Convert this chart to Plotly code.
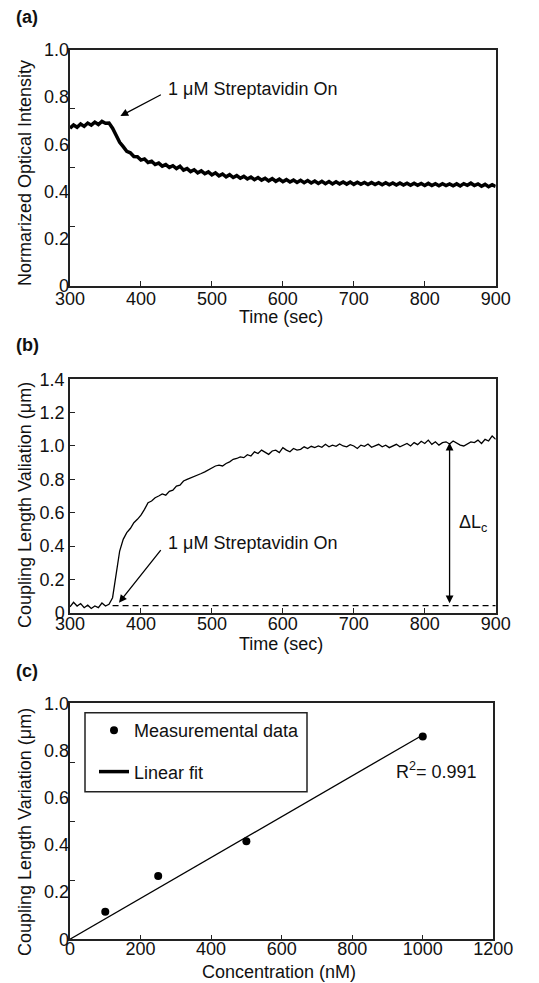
import numpy as np
import plotly.graph_objects as go

W, H = 539, 983
FONT = 'Liberation Sans, Arial, sans-serif'
INK = '#111111'

# (a) normalized optical intensity, one reading every 5 s
time_a = list(range(300, 905, 5))
intensity_a = [
    0.668, 0.682, 0.672, 0.686, 0.676, 0.690, 0.681, 0.694, 0.684, 0.697, 0.689, 0.690,
    0.668, 0.640, 0.608, 0.590, 0.570, 0.564, 0.548, 0.547, 0.533, 0.538, 0.523, 0.528,
    0.514, 0.520, 0.507, 0.514, 0.502, 0.509, 0.497, 0.507, 0.490, 0.497, 0.484, 0.492,
    0.479, 0.487, 0.475, 0.483, 0.470, 0.479, 0.466, 0.474, 0.462, 0.471, 0.459, 0.467,
    0.456, 0.464, 0.453, 0.461, 0.450, 0.459, 0.448, 0.456, 0.445, 0.454, 0.443, 0.452,
    0.441, 0.450, 0.440, 0.448, 0.438, 0.447, 0.437, 0.446, 0.436, 0.444, 0.434, 0.443,
    0.433, 0.442, 0.432, 0.441, 0.432, 0.440, 0.431, 0.440, 0.430, 0.439, 0.430, 0.438,
    0.429, 0.438, 0.429, 0.437, 0.428, 0.437, 0.428, 0.436, 0.427, 0.436, 0.427, 0.435,
    0.426, 0.435, 0.426, 0.434, 0.425, 0.434, 0.425, 0.433, 0.424, 0.433, 0.425, 0.432,
    0.424, 0.432, 0.423, 0.433, 0.426, 0.435, 0.425, 0.432, 0.422, 0.430, 0.420, 0.428,
    0.421,
]

# (b) coupling length variation (um), one reading every 5 s
time_b = list(range(300, 905, 5))
coupling_b = [
    0.035, 0.062, 0.040, 0.055, 0.030, 0.045, 0.025, 0.040, 0.030, 0.058, 0.040, 0.050,
    0.090, 0.240, 0.370, 0.440, 0.480, 0.505, 0.540, 0.560, 0.585, 0.620, 0.660, 0.670,
    0.690, 0.700, 0.712, 0.705, 0.728, 0.735, 0.760, 0.765, 0.790, 0.800, 0.808, 0.815,
    0.825, 0.835, 0.845, 0.855, 0.870, 0.880, 0.885, 0.880, 0.895, 0.905, 0.920, 0.925,
    0.935, 0.930, 0.948, 0.940, 0.965, 0.955, 0.975, 0.960, 0.950, 0.970, 0.975, 0.960,
    0.990, 0.975, 0.965, 0.985, 0.975, 0.980, 0.995, 0.985, 0.998, 0.990, 1.000, 0.992,
    1.010, 0.995, 1.005, 0.998, 1.012, 1.000, 0.995, 1.008, 1.000, 0.985, 1.005, 0.998,
    1.012, 0.992, 1.000, 1.010, 0.995, 1.005, 0.990, 1.002, 1.010, 0.995, 1.005, 1.015,
    1.000, 1.020, 1.008, 1.028, 1.015, 1.035, 1.010, 1.025, 1.005, 1.020, 1.025, 1.012,
    1.030, 1.018, 1.005, 1.000, 1.015, 1.025, 1.020, 1.035, 1.015, 1.040, 1.030, 1.060,
    1.040,
]
baseline_b = 0.042
baseline_from = 360
delta_lc_time = 835
delta_lc_top = 1.02

# (c) calibration against concentration
conc_nm = [100, 250, 500, 1000]
coupling_c = [0.117, 0.268, 0.415, 0.859]
r_squared = 0.991

# tick marks and labels (panels a and c label every 0.2 but tick every 0.25)
time_ticks = [300, 400, 500, 600, 700, 800, 900]
conc_ticks = [0, 200, 400, 600, 800, 1000, 1200]
quarter_ticks = [0.25, 0.5, 0.75]
unit_labels = [0, 0.2, 0.4, 0.6, 0.8, 1.0]
unit_text = ['0', '0.2', '0.4', '0.6', '0.8', '1.0']
b_labels = [0, 0.2, 0.4, 0.6, 0.8, 1.0, 1.2, 1.4]
b_text = ['0', '0.2', '0.4', '0.6', '0.8', '1.0', '1.2', '1.4']


def px(x):
    return x / W


def py(y):
    return 1 - y / H


# plot frames in pixels: left, right, top, bottom
frame_a = (70, 495.7, 50, 285.7)
frame_b = (70, 495.7, 379.3, 612.7)
frame_c = (70, 493.3, 703.3, 939.3)


def xdom(f):
    return [px(f[0]), px(f[1])]


def ydom(f):
    return [py(f[3]), py(f[2])]


frame_style = dict(
    showline=True, mirror=True, linecolor='#222', linewidth=1.5,
    ticks='inside', ticklen=5, tickwidth=1.2, tickcolor='#222',
    showgrid=False, zeroline=False, automargin=False,
    tickfont=dict(size=18, color=INK, family=FONT),
)
label_style = dict(
    showline=False, ticks='', showgrid=False, zeroline=False, automargin=False,
    tickfont=dict(size=18, color=INK, family=FONT),
)
text_font = dict(size=18, color=INK, family=FONT)

fig = go.Figure()

fig.add_trace(go.Scatter(
    x=time_a, y=intensity_a, mode='lines', xaxis='x', yaxis='y',
    line=dict(color='black', width=3.5), showlegend=False,
))

fig.add_trace(go.Scatter(
    x=time_b, y=coupling_b, mode='lines', xaxis='x2', yaxis='y2',
    line=dict(color='black', width=1.3), showlegend=False,
))
fig.add_trace(go.Scatter(
    x=[baseline_from, 900], y=[baseline_b, baseline_b], mode='lines',
    xaxis='x2', yaxis='y2',
    line=dict(color='black', width=1.3, dash='6px,4px'), showlegend=False,
))

# linear fit through the origin
cx = np.array(conc_nm, dtype=float)
cy = np.array(coupling_c)
slope = np.dot(cx, cy) / np.dot(cx, cx)
fit_x = np.array([0, cx.max()])
fig.add_trace(go.Scatter(
    x=conc_nm, y=coupling_c, mode='markers', xaxis='x3', yaxis='y3',
    marker=dict(color='black', size=8), name='Measuremental data',
    legendgroup='meas',
))
fig.add_trace(go.Scatter(
    x=fit_x, y=slope * fit_x, mode='lines', xaxis='x3', yaxis='y3',
    line=dict(color='black', width=1.3), showlegend=False, legendgroup='fit',
))
# legend entry only: the key in the original uses a heavier stroke
fig.add_trace(go.Scatter(
    x=[None], y=[None], mode='lines', xaxis='x3', yaxis='y3',
    line=dict(color='black', width=3.5), name='Linear fit', legendgroup='fit',
))

# empty traces so the label-only overlay axes get drawn
for xa, ya in (('x', 'y4'), ('x3', 'y5')):
    fig.add_trace(go.Scatter(x=[None], y=[None], xaxis=xa, yaxis=ya,
                             mode='lines', showlegend=False, hoverinfo='skip'))

fig.update_layout(
    template='none',
    width=W, height=H, autosize=False,
    margin=dict(l=0, r=0, t=0, b=0, pad=0, autoexpand=False),
    paper_bgcolor='white', plot_bgcolor='white',
    font=dict(family=FONT, size=18, color=INK),
    xaxis=dict(frame_style, domain=xdom(frame_a), anchor='y', range=[300, 900],
               tickvals=time_ticks, ticklabelstandoff=-4),
    yaxis=dict(frame_style, domain=ydom(frame_a), anchor='x', range=[0, 1],
               tickvals=quarter_ticks, showticklabels=False),
    yaxis4=dict(label_style, overlaying='y', anchor='x', range=[0, 1],
                tickvals=unit_labels, ticktext=unit_text),
    xaxis2=dict(frame_style, domain=xdom(frame_b), anchor='y2', range=[300, 900],
                tickvals=time_ticks, ticklabelstandoff=-6),
    yaxis2=dict(frame_style, domain=ydom(frame_b), anchor='x2', range=[0, 1.4],
                tickvals=b_labels, ticktext=b_text),
    xaxis3=dict(frame_style, domain=xdom(frame_c), anchor='y3', range=[0, 1200],
                tickvals=conc_ticks, ticklabelstandoff=-8),
    yaxis3=dict(frame_style, domain=ydom(frame_c), anchor='x3', range=[0, 1],
                tickvals=quarter_ticks, showticklabels=False),
    yaxis5=dict(label_style, overlaying='y3', anchor='x3', range=[0, 1],
                tickvals=unit_labels, ticktext=unit_text),
    legend=dict(
        x=px(94), y=py(712), xanchor='left', yanchor='top',
        bgcolor='rgba(0,0,0,0)', borderwidth=0,
        font=text_font, tracegroupgap=15, itemwidth=30,
    ),
    showlegend=True,
)

# legend frame
fig.add_shape(type='rect', xref='paper', yref='paper',
              x0=px(85), x1=px(307), y0=py(791.7), y1=py(712.7),
              line=dict(color='#222', width=1.5))

annotations = []
for label, ymid in (('(a)', 17), ('(b)', 345), ('(c)', 671)):
    annotations.append(dict(
        text=f'<b>{label}</b>', xref='paper', yref='paper',
        x=px(14), y=py(ymid), xanchor='left', yanchor='middle',
        showarrow=False, font=text_font,
    ))

# axis titles, placed where the original puts them
axis_titles = [
    ('Time (sec)', 281, 317, 0),
    ('Time (sec)', 281, 644, 0),
    ('Concentration (nM)', 279, 972, 0),
    ('Normarized Optical Intensity', 25, 173, -90),
    ('Coupling Length Valiation (μm)', 25, 505, -90),
    ('Coupling Length Variation (μm)', 25, 832, -90),
]
for text, x, y, angle in axis_titles:
    annotations.append(dict(
        text=text, xref='paper', yref='paper', x=px(x), y=py(y),
        xanchor='center', yanchor='middle', textangle=angle,
        showarrow=False, font=text_font,
    ))

# (a) injection arrow and note
annotations.append(dict(
    x=371, y=0.72, xref='x', yref='y', text='', showarrow=True,
    ax=42, ay=-22, arrowhead=2, arrowsize=1.2, arrowwidth=1.3, arrowcolor='black',
))
annotations.append(dict(
    x=px(166), y=py(89), xref='paper', yref='paper',
    text='1 μM Streptavidin On', xanchor='left', yanchor='middle',
    showarrow=False, font=text_font,
))

# (b) injection arrow and note
annotations.append(dict(
    x=369, y=0.06, xref='x2', yref='y2', text='', showarrow=True,
    ax=43, ay=-54, arrowhead=2, arrowsize=1.2, arrowwidth=1.3, arrowcolor='black',
))
annotations.append(dict(
    x=px(166), y=py(542.7), xref='paper', yref='paper',
    text='1 μM Streptavidin On', xanchor='left', yanchor='middle',
    showarrow=False, font=text_font,
))

# (b) delta Lc double arrow
annotations.append(dict(
    x=delta_lc_time, y=delta_lc_top, xref='x2', yref='y2', text='',
    showarrow=True, axref='x2', ayref='y2',
    ax=delta_lc_time, ay=baseline_b + 0.005,
    arrowhead=2, startarrowhead=2, arrowside='end+start',
    arrowsize=1.2, startarrowsize=1.2, arrowwidth=1.3, arrowcolor='black',
))
annotations.append(dict(
    x=845, y=0.536, xref='x2', yref='y2', text='ΔL<sub>c</sub>',
    xanchor='left', yanchor='middle', showarrow=False, font=text_font,
))

# (c) goodness of fit
annotations.append(dict(
    x=918, y=0.717, xref='x3', yref='y3',
    text=f'R<sup>2</sup>= {r_squared}', xanchor='left', yanchor='middle',
    showarrow=False, font=text_font,
))

fig.update_layout(annotations=annotations)

fix_page = (
    "document.body.style.margin='0';"
    "document.body.style.overflow='hidden';"
)
fig.write_html('out.html', post_script=fix_page,
               config={'displayModeBar': False, 'responsive': False})
